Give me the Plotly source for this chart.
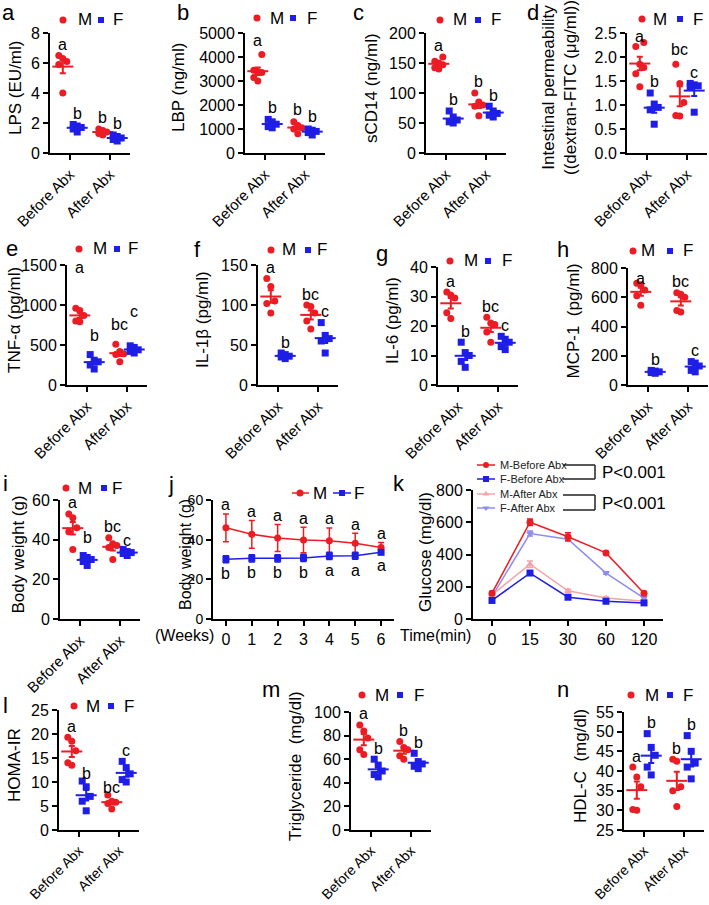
import numpy as np
import plotly.graph_objects as go

W, H = 709, 905
FONT = 'Arial, Liberation Sans, Helvetica, sans-serif'
RED = '#ec1c24'
BLUE = '#1e1ee6'
PINK = '#f5a3a8'
LBLUE = '#8c8cf2'

GROUPS = ['Before Abx', 'After Abx']

# ---------------- data (order: M-before, F-before, M-after, F-after) -------------
lps_m_before = [6.5, 6.3, 6.1, 5.9, 4.0]
lps_f_before = [1.9, 1.8, 1.7, 1.6, 1.4]
lps_m_after = [1.6, 1.5, 1.4, 1.3, 1.2]
lps_f_after = [1.2, 1.1, 1.0, 0.9, 0.8]
lps_letters = ['a', 'b', 'b', 'b']

lbp_m_before = [4100, 3450, 3400, 3350, 3150, 3000]
lbp_f_before = [1400, 1300, 1200, 1100, 1050]
lbp_m_after = [1300, 1150, 1050, 1000, 800]
lbp_f_after = [1000, 950, 900, 850, 750]
lbp_letters = ['a', 'b', 'b', 'b']

scd14_m_before = [160, 153, 150, 147, 142, 140]
scd14_f_before = [70, 60, 55, 52, 50]
scd14_m_after = [100, 85, 80, 78, 62]
scd14_f_after = [78, 70, 66, 63, 60]
scd14_letters = ['a', 'b', 'b', 'b']

perm_m_before = [2.3, 2.22, 1.85, 1.78, 1.65, 1.38]
perm_f_before = [1.25, 1.02, 0.95, 0.9, 0.6]
perm_m_after = [1.85, 1.45, 1.05, 0.78, 0.77]
perm_f_after = [1.45, 1.42, 1.4, 1.38, 0.85]
perm_letters = ['a', 'b', 'bc', 'c']

tnf_m_before = [960, 930, 870, 800, 790]
tnf_f_before = [380, 310, 290, 250, 200]
tnf_m_after = [510, 420, 390, 380, 290]
tnf_f_after = [490, 470, 440, 420, 400]
tnf_letters = ['a', 'b', 'bc', 'c']

il1b_m_before = [133, 123, 105, 102, 90]
il1b_f_before = [40, 38, 36, 35, 33]
il1b_m_after = [100, 98, 90, 80, 70]
il1b_f_after = [78, 62, 58, 55, 40]
il1b_letters = ['a', 'b', 'bc', 'c']

il6_m_before = [31.5, 30.5, 29.5, 24.5, 22.5]
il6_f_before = [14.5, 11, 10, 8, 6]
il6_m_after = [23, 21, 20.5, 18, 14.5]
il6_f_after = [16.5, 15.5, 14.5, 13, 12]
il6_letters = ['a', 'b', 'bc', 'c']

mcp1_m_before = [695, 685, 650, 610, 545]
mcp1_f_before = [100, 95, 90, 85, 80]
mcp1_m_after = [630, 620, 600, 510, 500]
mcp1_f_after = [160, 150, 130, 100, 90]
mcp1_letters = ['a', 'b', 'bc', 'c']

bw_m_before = [53, 51, 46, 44, 35]
bw_f_before = [32, 31, 30, 29, 27]
bw_m_after = [41, 38, 37, 36, 30]
bw_f_after = [35, 34, 33.5, 33, 32]
bw_letters = ['a', 'b', 'bc', 'c']

weeks = [0, 1, 2, 3, 4, 5, 6]
bw_week_m = [46, 42.7, 40.8, 39.8, 39.5, 38.2, 36.1]
bw_week_m_err = [7, 7, 6.8, 6.4, 6.4, 5, 2.5]
bw_week_f = [30.1, 30.6, 30.6, 30.8, 31.8, 31.9, 33.6]
bw_week_f_err = [1.8, 1.8, 1.8, 1.8, 1.8, 1.8, 1.0]
bw_week_m_letters = ['a', 'a', 'a', 'a', 'a', 'a', 'a']
bw_week_f_letters = ['b', 'b', 'b', 'b', 'a', 'a', 'a']

gtt_time = ['0', '15', '30', '60', '120']
gtt_m_before = [160, 600, 510, 410, 160]
gtt_m_before_err = [10, 20, 25, 10, 10]
gtt_f_before = [115, 285, 135, 110, 100]
gtt_f_before_err = [8, 12, 10, 8, 8]
gtt_m_after = [150, 340, 175, 130, 110]
gtt_m_after_err = [8, 20, 10, 8, 8]
gtt_f_after = [140, 530, 495, 285, 130]
gtt_f_after_err = [8, 15, 12, 8, 8]
gtt_names = ['M-Before Abx', 'F-Before Abx', 'M-After Abx', 'F-After Abx']
gtt_pvalue = 'P<0.001'

homa_m_before = [19.3, 18.5, 16.5, 14, 13.5]
homa_f_before = [10.2, 9, 7, 6, 4]
homa_m_after = [7.3, 6, 5.8, 5.5, 4.4]
homa_f_after = [14.3, 13, 11.7, 10.5, 10]
homa_letters = ['a', 'b', 'bc', 'c']

tg_m_before = [89, 84, 78, 68, 64]
tg_f_before = [60, 55, 50, 47, 45]
tg_m_after = [75, 70, 68, 63, 60]
tg_f_after = [65, 58, 56, 54, 52]
tg_letters = ['a', 'b', 'b', 'b']

hdl_m_before = [41, 38.5, 36, 30.2, 30]
hdl_f_before = [49.5, 46, 44, 41, 39]
hdl_m_after = [43, 42.5, 36, 35, 31]
hdl_f_after = [49, 45, 42, 41, 38]
hdl_letters = ['a', 'b', 'b', 'b']

# ---------------- layout helpers ----------------
TICK = 16
CAT = 15
TITLE = 17
LETTER = 16

fig = go.Figure()
layout = dict(width=W, height=H, margin=dict(l=0, r=0, t=0, b=0),
              paper_bgcolor='white', plot_bgcolor='rgba(0,0,0,0)', showlegend=False,
              font=dict(family=FONT, color='black'))
annotations = []
shapes = []

OV = 'x15', 'y15'   # overlay axis in pixel units for legend glyphs


def px(x, y):
    return x / W, 1 - y / H


def axis_style(**kw):
    d = dict(showline=True, linecolor='black', linewidth=2, ticks='outside', ticklen=5,
             tickwidth=2, tickcolor='black', showgrid=False, zeroline=False,
             tickfont=dict(family=FONT, size=TICK, color='black'), fixedrange=True,
             automargin=False)
    d.update(kw)
    return d


def add_axes(n, x0, x1, ytop, ybot, xkw, ykw):
    xn = 'xaxis' if n == 1 else f'xaxis{n}'
    yn = 'yaxis' if n == 1 else f'yaxis{n}'
    xr = 'x' if n == 1 else f'x{n}'
    yr = 'y' if n == 1 else f'y{n}'
    layout[xn] = axis_style(domain=[x0 / W, x1 / W], anchor=yr, **xkw)
    layout[yn] = axis_style(domain=[1 - ybot / H, 1 - ytop / H], anchor=xr, **ykw)
    return xr, yr


def text(x, y, s, size=15, angle=0, xanchor='center', color='black'):
    X, Y = px(x, y)
    annotations.append(dict(x=X, y=Y, xref='paper', yref='paper', text=s, showarrow=False,
                            textangle=angle, xanchor=xanchor, yanchor='middle',
                            font=dict(family=FONT, size=size, color=color)))


def glyph(x, y, symbol, color, size=7):
    fig.add_trace(go.Scatter(x=[x], y=[y], mode='markers', xaxis=OV[0], yaxis=OV[1],
                             marker=dict(symbol=symbol, size=size, color=color,
                                         line=dict(width=0)), hoverinfo='skip'))


def seg(xa, xb, y, color, width=1.5):
    fig.add_trace(go.Scatter(x=[xa, xb], y=[y, y], mode='lines', xaxis=OV[0], yaxis=OV[1],
                             line=dict(color=color, width=width), hoverinfo='skip'))


def dot_legend(y, xs):
    glyph(xs[0], y, 'circle', RED, 7)
    text(xs[1], y, 'M', 17)
    glyph(xs[2], y, 'square', BLUE, 6)
    text(xs[3], y, 'F', 17)


def jitter(vals):
    vals = np.asarray(vals, float)
    order = np.argsort(vals)
    pat = [0.0, -0.1, 0.1]
    off = np.zeros(len(vals))
    for k, i in enumerate(order):
        off[i] = pat[k % 3]
    return off


def dot_panel(n, cfg, series, letters):
    x0, ytop, ybot = cfg['x0'], cfg['ytop'], cfg['ybot']
    xr, yr = add_axes(n, x0, x0 + 80, ytop, ybot,
                      dict(range=[-0.5, 1.5], tickmode='array', tickvals=[0, 1],
                           ticktext=GROUPS, tickangle=-45,
                           tickfont=dict(family=FONT, size=cfg.get('cat', CAT), color='black')),
                      dict(range=cfg['yrange'], tick0=cfg['yrange'][0], dtick=cfg['dtick'],
                           tickformat=cfg.get('fmt', '')))
    extra = cfg.get('extra', [0, 0, 0, 0])
    for gi, vals in enumerate(series):
        male = gi % 2 == 0
        base = gi // 2 + (-0.18 if male else 0.18)
        color = RED if male else BLUE
        v = np.asarray(vals, float)
        fig.add_trace(go.Scatter(x=base + jitter(v), y=v, mode='markers', xaxis=xr, yaxis=yr,
                                 marker=dict(symbol='circle' if male else 'square', size=7,
                                             color=color, line=dict(width=0))))
        m = v.mean()
        s = v.std(ddof=1) / np.sqrt(len(v))
        fig.add_trace(go.Scatter(x=[base], y=[m], mode='markers', xaxis=xr, yaxis=yr,
                                 marker=dict(symbol='line-ew', size=15,
                                             line=dict(width=2, color=color)),
                                 error_y=dict(type='data', array=[s], color=color,
                                              thickness=2, width=3)))
        top = max(v.max(), m + s)
        annotations.append(dict(x=base, y=top, xref=xr, yref=yr, text=letters[gi],
                                showarrow=False, yanchor='middle', yshift=11 + extra[gi],
                                font=dict(family=FONT, size=LETTER, color='black')))
    mid = (ytop + ybot) / 2 - 5
    text(x0 - cfg['tdx'], mid, cfg['title'], TITLE, -90)
    text(cfg['lx'], cfg['ly'], cfg['letter'], 22)
    dot_legend(cfg['legy'], cfg['legx'])


# ---------------- dot panels ----------------
panels = [
    (1, dict(letter='a', lx=8, ly=12, x0=50, ytop=33, ybot=153, yrange=[0, 8], dtick=2,
             title='LPS (EU/ml)', tdx=35, legy=20, legx=[63, 85, 101, 118]),
     [lps_m_before, lps_f_before, lps_m_after, lps_f_after], lps_letters),
    (2, dict(letter='b', lx=183, ly=12, x0=245, ytop=33, ybot=153, yrange=[0, 5000], dtick=1000,
             title='LBP (ng/ml)', tdx=67, legy=18, legx=[257, 277, 293, 312], extra=[3, 1, 1, 1]),
     [lbp_m_before, lbp_f_before, lbp_m_after, lbp_f_after], lbp_letters),
    (3, dict(letter='c', lx=358, ly=12, x0=426, ytop=33, ybot=153, yrange=[0, 200], dtick=50,
             title='sCD14 (ng/ml)', tdx=55, legy=20, legx=[440, 460, 478, 496]),
     [scd14_m_before, scd14_f_before, scd14_m_after, scd14_f_after], scd14_letters),
    (4, dict(letter='d', lx=533, ly=12, x0=627, ytop=33, ybot=153, yrange=[0, 2.5], dtick=0.5,
             fmt='.1f', title='Intestinal permeability<br>((dextran-FITC (μg/ml))', tdx=68,
             legy=19, legx=[642, 660, 680, 698], extra=[-5, 0, 4, 0]),
     [perm_m_before, perm_f_before, perm_m_after, perm_f_after], perm_letters),
    (5, dict(letter='e', lx=12, ly=249, x0=67, ytop=265, ybot=385, yrange=[0, 1500], dtick=500,
             title='TNF-α (pg/ml)', tdx=53, legy=249, legx=[79, 100, 117, 133],
             extra=[30, 8, 9, 23]),
     [tnf_m_before, tnf_f_before, tnf_m_after, tnf_f_after], tnf_letters),
    (6, dict(letter='f', lx=197, ly=250, x0=258, ytop=265, ybot=385, yrange=[0, 150], dtick=50,
             title='IL-1β (pg/ml)', tdx=56, legy=250, legx=[271, 289, 308, 322]),
     [il1b_m_before, il1b_f_before, il1b_m_after, il1b_f_after], il1b_letters),
    (7, dict(letter='g', lx=382, ly=253, x0=438, ytop=267, ybot=385, yrange=[0, 40], dtick=10,
             title='IL-6 (pg/ml)', tdx=46, legy=261, legx=[450, 471, 488, 507]),
     [il6_m_before, il6_f_before, il6_m_after, il6_f_after], il6_letters),
    (8, dict(letter='h', lx=563, ly=250, x0=628, ytop=268, ybot=385, yrange=[0, 800], dtick=200,
             title='MCP-1  (pg/ml)', tdx=55, legy=251, legx=[633, 648, 670, 688],
             extra=[-6, 0, 0, 0]),
     [mcp1_m_before, mcp1_f_before, mcp1_m_after, mcp1_f_after], mcp1_letters),
    (9, dict(letter='i', lx=5, ly=483, x0=60, ytop=500, ybot=619, yrange=[0, 60], dtick=20,
             title='Body weight (g)', tdx=42, legy=488, legx=[66, 85, 104, 117],
             extra=[0, 7, 0, -2]),
     [bw_m_before, bw_f_before, bw_m_after, bw_f_after], bw_letters),
    (12, dict(letter='l', lx=5, ly=705, x0=59, ytop=710, ybot=830, yrange=[0, 25], dtick=5,
              title='HOMA-IR', tdx=45, legy=706, legx=[74, 93, 111, 129], extra=[0, -3, -4, 0],
              cat=14),
     [homa_m_before, homa_f_before, homa_m_after, homa_f_after], homa_letters),
    (13, dict(letter='m', lx=271, ly=689, x0=351, ytop=712, ybot=830, yrange=[0, 100], dtick=20,
              title='Triglyceride  (mg/dl)', tdx=56, legy=695, legx=[362, 382, 400, 419],
              cat=14),
     [tg_m_before, tg_f_before, tg_m_after, tg_f_after], tg_letters),
    (14, dict(letter='n', lx=563, ly=689, x0=624, ytop=712, ybot=830, yrange=[25, 55], dtick=5,
              title='HDL-C  (mg/dl)', tdx=44, legy=695, legx=[631, 652, 670, 688], cat=14),
     [hdl_m_before, hdl_f_before, hdl_m_after, hdl_f_after], hdl_letters),
]
for n, cfg, series, letters in panels:
    dot_panel(n, cfg, series, letters)

# ---------------- panel j : body weight over weeks ----------------
xr, yr = add_axes(10, 213, 394, 500, 619,
                  dict(range=[-0.5, 6.5], tickmode='array', tickvals=weeks,
                       ticktext=[str(w) for w in weeks]),
                  dict(range=[0, 60], tick0=0, dtick=20,
                       tickfont=dict(family=FONT, size=14, color='black')))
for vals, err, color, sym in [(bw_week_m, bw_week_m_err, RED, 'circle'),
                              (bw_week_f, bw_week_f_err, BLUE, 'square')]:
    fig.add_trace(go.Scatter(x=weeks, y=vals, mode='lines+markers', xaxis=xr, yaxis=yr,
                             line=dict(color=color, width=1.5),
                             marker=dict(symbol=sym, size=7, color=color, line=dict(width=0)),
                             error_y=dict(type='data', array=err, color=color, thickness=1.5,
                                          width=3)))
for w, v, e, s in zip(weeks, bw_week_m, bw_week_m_err, bw_week_m_letters):
    annotations.append(dict(x=w, y=v + e, xref=xr, yref=yr, text=s, showarrow=False,
                            yanchor='middle', yshift=9, font=dict(family=FONT, size=LETTER)))
for w, v, e, s in zip(weeks, bw_week_f, bw_week_f_err, bw_week_f_letters):
    annotations.append(dict(x=w, y=v - e, xref=xr, yref=yr, text=s, showarrow=False,
                            yanchor='middle', yshift=-11, font=dict(family=FONT, size=LETTER)))
text(185, 555, 'Body weight (g)', TITLE - 1, -90)
text(171, 485, 'j', 22)
text(184, 635, '(Weeks)', 16)
seg(292, 309, 493, RED)
glyph(300, 493, 'circle', RED, 7)
text(320, 493, 'M', 17)
seg(333, 351, 493, BLUE)
glyph(342, 493, 'square', BLUE, 6)
text(359, 493, 'F', 17)

# ---------------- panel k : glucose tolerance ----------------
xr, yr = add_axes(11, 473, 663, 490, 619,
                  dict(range=[-0.5, 4.5], tickmode='array', tickvals=list(range(5)),
                       ticktext=gtt_time),
                  dict(range=[0, 800], tick0=0, dtick=200))
k_series = [(gtt_m_before, gtt_m_before_err, RED, 'circle'),
            (gtt_f_before, gtt_f_before_err, BLUE, 'square'),
            (gtt_m_after, gtt_m_after_err, PINK, 'triangle-up'),
            (gtt_f_after, gtt_f_after_err, LBLUE, 'triangle-down')]
for vals, err, color, sym in reversed(k_series):
    fig.add_trace(go.Scatter(x=list(range(5)), y=vals, mode='lines+markers', xaxis=xr, yaxis=yr,
                             line=dict(color=color, width=1.5),
                             marker=dict(symbol=sym, size=7, color=color, line=dict(width=0)),
                             error_y=dict(type='data', array=err, color=color, thickness=1.5,
                                          width=3)))
text(425, 552, 'Glucose (mg/dl)', TITLE, -90)
text(399, 483, 'k', 22)
text(435, 635, 'Time(min)', 16)
for (vals, err, color, sym), name, yy in zip(k_series, gtt_names, [465, 479, 494, 508]):
    seg(477, 495, yy, color)
    glyph(486, yy, sym, color, 6)
    text(498, yy, name, 11, xanchor='left', color='#222222')
for ya, yb in [(465, 479), (495, 510)]:
    for (xa, ya2, xb, yb2) in [(563, ya, 595, ya), (563, yb, 595, yb), (595, ya, 595, yb)]:
        X0, Y0 = px(xa, ya2)
        X1, Y1 = px(xb, yb2)
        shapes.append(dict(type='line', xref='paper', yref='paper', x0=X0, y0=Y0, x1=X1, y1=Y1,
                           line=dict(color='#222222', width=1.5)))
    text(600, (ya + yb) / 2 + 1, gtt_pvalue, 17, xanchor='left')

# overlay axis for legend glyphs (pixel coordinates)
layout['xaxis15'] = dict(domain=[0, 1], range=[0, W], visible=False, fixedrange=True)
layout['yaxis15'] = dict(domain=[0, 1], range=[H, 0], visible=False, fixedrange=True,
                         anchor='x15')

layout['annotations'] = annotations
layout['shapes'] = shapes
fig.update_layout(**layout)
fig.write_html('out.html', config={'displayModeBar': False, 'staticPlot': True},
               post_script="document.body.style.margin='0px';document.body.style.padding='0px';")
